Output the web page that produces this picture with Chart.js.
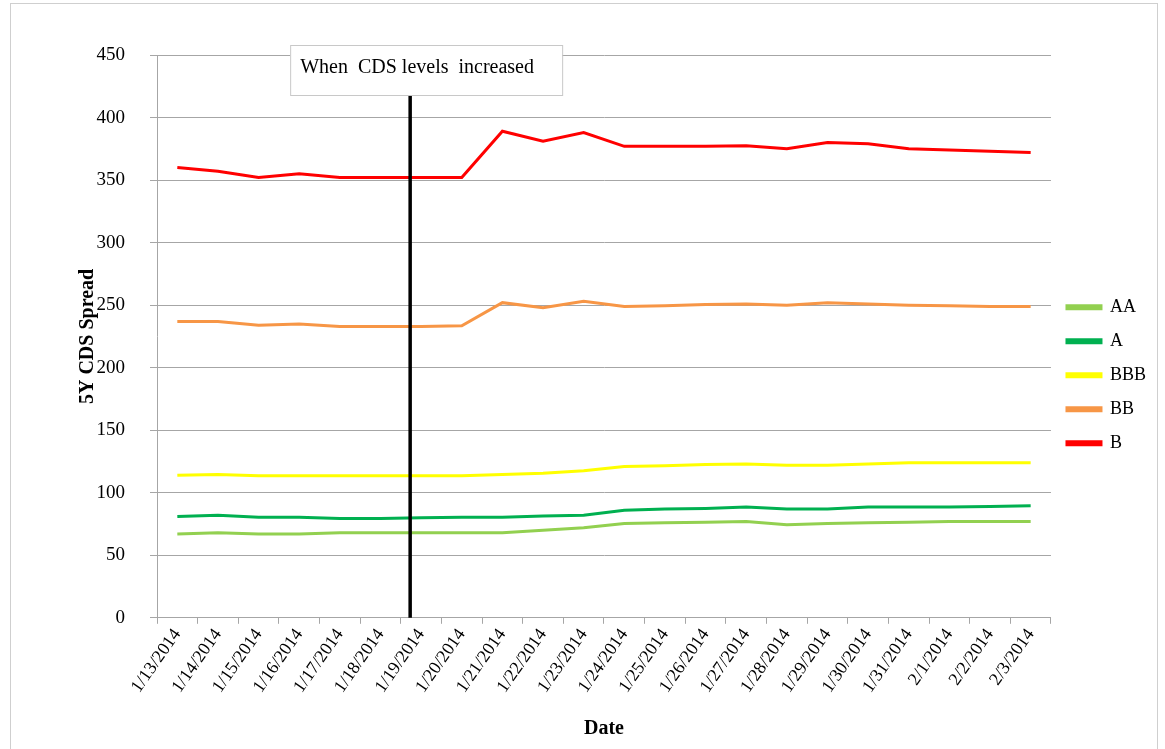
<!DOCTYPE html>
<html>
<head>
<meta charset="utf-8">
<script src="https://cdn.jsdelivr.net/npm/chart.js@4"></script>
<style>
  body { margin: 0; background: #fff; }
  #frame { position: absolute; left: 10px; top: 3px; width: 1146px; height: 760px; border: 1px solid #cfcfcf; }
  #wrap { position: absolute; left: 0; top: 0; width: 1165px; height: 749px; }
</style>
</head>
<body>
<div id="frame"></div>
<div id="wrap"><canvas id="cdsChart" width="1165" height="749"></canvas></div>
<script>
const dates = ['1/13/2014', '1/14/2014', '1/15/2014', '1/16/2014', '1/17/2014', '1/18/2014', '1/19/2014',
    '1/20/2014', '1/21/2014', '1/22/2014', '1/23/2014', '1/24/2014', '1/25/2014', '1/26/2014',
    '1/27/2014', '1/28/2014', '1/29/2014', '1/30/2014', '1/31/2014', '2/1/2014', '2/2/2014', '2/3/2014'];

const aa = [67, 68, 67, 67, 68, 68, 68, 68, 68, 70, 72, 75.5, 76, 76.5, 77, 74.5, 75.5, 76, 76.5, 77, 77, 77];
const a = [81, 82, 80.5, 80.5, 79.5, 79.5, 80, 80.5, 80.5, 81.5, 82, 86, 87, 87.5, 88.5, 87, 87, 88.5, 88.5, 88.5, 89, 89.5];
const bbb = [114, 114.5, 113.5, 113.5, 113.5, 113.5, 113.5, 113.5, 114.5, 115.5, 117.5, 121, 121.5, 122.5, 123, 122, 122, 123, 124, 124, 124, 124];
const bb = [237, 237, 234, 235, 233, 233, 233, 233.5, 252, 248, 253, 249, 249.5, 250.5, 251, 250, 252, 251, 250, 249.5, 249, 249];
const b = [360, 357, 352, 355, 352, 352, 352, 352, 389, 381, 388, 377, 377, 377, 377.5, 375, 380, 379, 375, 374, 373, 372];

const yTicks = [0, 50, 100, 150, 200, 250, 300, 350, 400, 450];
const eventIndex = 5.73; // where the marker line sits on the date axis
const eventText = 'When  CDS levels  increased';

const serif = '"Liberation Serif", "Times New Roman", serif';

function series(label, data, color) {
    return {
        label: label,
        data: data,
        borderColor: color,
        backgroundColor: color,
        borderWidth: 3,
        pointRadius: 0,
        tension: 0
    };
}

// vertical marker + text box
const eventMarker = {
    id: 'eventMarker',
    afterDatasetsDraw(chart) {
        const ctx = chart.ctx;
        const x = chart.scales.x.getPixelForValue(eventIndex);
        const area = chart.chartArea;
        const boxTop = area.top - 10;
        const boxH = 50;
        ctx.save();
        ctx.strokeStyle = '#000';
        ctx.lineWidth = 3.5;
        ctx.beginPath();
        ctx.moveTo(x, boxTop + boxH);
        ctx.lineTo(x, area.bottom);
        ctx.stroke();

        const boxL = x - 120;
        const boxW = 272;
        ctx.fillStyle = '#fff';
        ctx.fillRect(boxL, boxTop, boxW, boxH);
        ctx.strokeStyle = '#c8c8c8';
        ctx.lineWidth = 1;
        ctx.strokeRect(boxL + 0.5, boxTop + 0.5, boxW, boxH);
        ctx.fillStyle = '#000';
        ctx.font = '20px ' + serif;
        ctx.textBaseline = 'middle';
        ctx.fillText(eventText, boxL + 10, boxTop + 23);
        ctx.restore();
    }
};

new Chart(document.getElementById('cdsChart'), {
    type: 'line',
    data: {
        labels: dates,
        datasets: [
            series('AA', aa, '#92D050'),
            series('A', a, '#00B050'),
            series('BBB', bbb, '#FFFF00'),
            series('BB', bb, '#F79646'),
            series('B', b, '#FF0000')
        ]
    },
    options: {
        responsive: false,
        animation: false,
        layout: { padding: { top: 55, left: 76, right: 9, bottom: 4 } },
        plugins: {
            legend: {
                position: 'right',
                align: 'start',
                title: { display: true, text: ' ', padding: { top: 208, bottom: 0 }, font: { size: 16, family: serif } },
                labels: {
                    boxWidth: 34,
                    boxHeight: 3,
                    padding: 16,
                    color: '#000',
                    font: { size: 18, family: serif }
                }
            },
            tooltip: { enabled: false }
        },
        scales: {
            x: {
                offset: true,
                grid: { offset: true, drawOnChartArea: false, drawTicks: true, tickLength: 6, color: '#a6a6a6' },
                border: { color: '#a6a6a6' },
                ticks: { minRotation: 55, maxRotation: 55, autoSkip: false, color: '#000', padding: 1, font: { size: 18, family: serif } },
                title: { display: true, text: 'Date', color: '#000', padding: { top: 19 }, font: { size: 20, weight: 'bold', family: serif } }
            },
            y: {
                min: 0,
                max: 450,
                afterBuildTicks(scale) { scale.ticks = yTicks.map(v => ({ value: v })); },
                afterFit(scale) { scale.width = 81; },
                grid: { color: '#a6a6a6', tickLength: 7 },
                border: { color: '#a6a6a6' },
                ticks: { color: '#000', padding: 25, font: { size: 19, family: serif } },
                title: { display: true, text: '5Y CDS Spread', color: '#000', padding: { top: 0, bottom: 0 }, font: { size: 20, weight: 'bold', family: serif } }
            }
        }
    },
    plugins: [eventMarker]
});
</script>
</body>
</html>
